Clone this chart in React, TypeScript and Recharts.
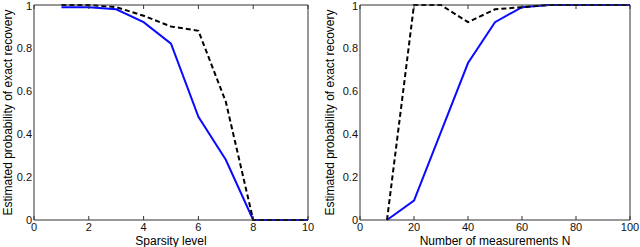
import { Line, LineChart, XAxis, YAxis } from "recharts";

const SPARSITY = [1, 2, 3, 4, 5, 6, 7, 8, 9, 10];
const SPARSITY_SOLID = [0.99, 0.99, 0.98, 0.92, 0.82, 0.48, 0.28, 0, 0, 0];
const SPARSITY_DASHED = [1, 1, 0.99, 0.95, 0.9, 0.88, 0.55, 0, 0, 0];

const MEASUREMENTS = [10, 20, 30, 40, 50, 60, 70, 80, 90, 100];
const MEAS_SOLID = [0, 0.09, 0.41, 0.73, 0.92, 0.99, 1, 1, 1, 1];
const MEAS_DASHED = [0, 1, 1, 0.92, 0.98, 0.99, 1, 1, 1, 1];

const SPARSITY_TICKS = [0, 2, 4, 6, 8, 10];
const MEAS_TICKS = [0, 20, 40, 60, 80, 100];
const Y_TICKS = [0, 0.2, 0.4, 0.6, 0.8, 1];

const Y_LABEL = "Estimated probability of exact recovery";

const BLUE = "#0a0aff";
const FRAME = "#333";
const FONT = "'Liberation Sans', Arial, sans-serif";

const empty = () => <g />;

type PanelProps = {
  xs: number[];
  solid: number[];
  dashed: number[];
  xTicks: number[];
  xMax: number;
  xLabel: string;
  yAxisWidth: number;
  rightMargin: number;
  yLabelOffset: number;
};

function Panel({ xs, solid, dashed, xTicks, xMax, xLabel, yAxisWidth, rightMargin, yLabelOffset }: PanelProps) {
  const data = xs.map((x, i) => ({ x, solid: solid[i], dashed: dashed[i] }));
  const tickStyle = { fontSize: 11, fill: "#111", fontFamily: FONT };
  return (
    <LineChart width={320} height={247} data={data} margin={{ top: 5, right: rightMargin, bottom: 0, left: 0 }}>
      <XAxis
        xAxisId="b"
        dataKey="x"
        type="number"
        domain={[0, xMax]}
        ticks={xTicks}
        height={27}
        tickLine={false}
        tickSize={0}
        tickMargin={3}
        axisLine={{ stroke: FRAME }}
        tick={tickStyle}
        label={{ value: xLabel, position: "insideBottom", offset: 2, style: { fontSize: 12, fill: "#000", fontFamily: FONT } }}
      />
      <XAxis
        xAxisId="bm"
        dataKey="x"
        type="number"
        domain={[0, xMax]}
        ticks={xTicks}
        mirror
        height={1}
        tickSize={4}
        tickLine={{ stroke: FRAME }}
        axisLine={false}
        tick={empty}
      />
      <XAxis
        xAxisId="t"
        orientation="top"
        dataKey="x"
        type="number"
        domain={[0, xMax]}
        ticks={xTicks}
        mirror
        height={1}
        tickSize={4}
        tickLine={{ stroke: FRAME }}
        axisLine={{ stroke: FRAME }}
        tick={empty}
      />
      <YAxis
        yAxisId="l"
        type="number"
        domain={[0, 1]}
        ticks={Y_TICKS}
        width={yAxisWidth}
        tickLine={false}
        tickSize={0}
        tickMargin={2}
        axisLine={{ stroke: FRAME }}
        tick={tickStyle}
        label={{
          value: Y_LABEL,
          angle: -90,
          position: "insideLeft",
          offset: yLabelOffset,
          style: { textAnchor: "middle", fontSize: 12, fill: "#000", fontFamily: FONT },
        }}
      />
      <YAxis
        yAxisId="lm"
        type="number"
        domain={[0, 1]}
        ticks={Y_TICKS}
        mirror
        width={1}
        tickSize={4}
        tickLine={{ stroke: FRAME }}
        axisLine={false}
        tick={empty}
      />
      <YAxis
        yAxisId="r"
        orientation="right"
        type="number"
        domain={[0, 1]}
        ticks={Y_TICKS}
        mirror
        width={1}
        tickSize={4}
        tickLine={{ stroke: FRAME }}
        axisLine={{ stroke: FRAME }}
        tick={empty}
      />
      <Line
        xAxisId="b"
        yAxisId="l"
        dataKey="solid"
        type="linear"
        stroke={BLUE}
        strokeWidth={2}
        dot={false}
        isAnimationActive={false}
      />
      <Line
        xAxisId="b"
        yAxisId="l"
        dataKey="dashed"
        type="linear"
        stroke="#000"
        strokeWidth={2}
        strokeDasharray="5 3"
        dot={false}
        isAnimationActive={false}
      />
    </LineChart>
  );
}

export default function App() {
  return (
    <div style={{ position: "absolute", left: 0, top: 0, width: 640, height: 247, background: "#fff", display: "flex" }}>
      <Panel
        xs={SPARSITY}
        solid={SPARSITY_SOLID}
        dashed={SPARSITY_DASHED}
        xTicks={SPARSITY_TICKS}
        xMax={10}
        xLabel="Sparsity level"
        yAxisWidth={34}
        rightMargin={12}
        yLabelOffset={8}
      />
      <Panel
        xs={MEASUREMENTS}
        solid={MEAS_SOLID}
        dashed={MEAS_DASHED}
        xTicks={MEAS_TICKS}
        xMax={100}
        xLabel="Number of measurements N"
        yAxisWidth={40}
        rightMargin={10}
        yLabelOffset={10}
      />
    </div>
  );
}
